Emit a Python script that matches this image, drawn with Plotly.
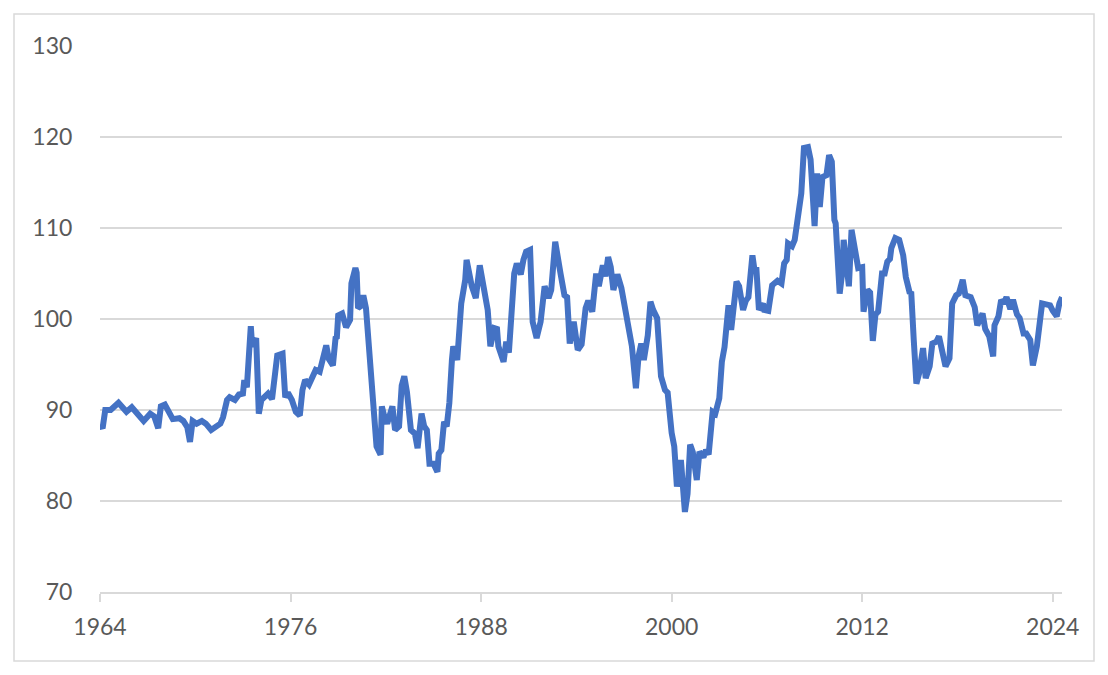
import plotly.graph_objects as go

# monthly points (index, roughly 70-130)
dates = [
    "1964-01", "1964-03", "1964-05", "1964-09", "1965-03", "1965-05", "1965-09", "1966-01",
    "1966-04", "1966-10", "1967-03", "1967-06", "1967-09", "1967-11", "1968-02", "1968-05",
    "1968-08", "1969-01", "1969-04", "1969-07", "1969-09", "1969-11", "1970-02", "1970-06",
    "1970-09", "1971-01", "1971-04", "1971-08", "1971-10", "1972-01", "1972-03", "1972-07",
    "1972-10", "1973-01", "1973-02", "1973-04", "1973-07", "1973-08", "1973-11", "1974-01",
    "1974-03", "1974-06", "1974-08", "1974-11", "1975-01", "1975-03", "1975-07", "1975-09",
    "1975-11", "1976-02", "1976-05", "1976-08", "1976-10", "1976-12", "1977-03", "1977-05",
    "1977-08", "1977-11", "1978-01", "1978-04", "1978-06", "1978-09", "1978-11", "1978-12",
    "1979-01", "1979-04", "1979-07", "1979-10", "1979-11", "1980-02", "1980-03", "1980-04",
    "1980-06", "1980-08", "1980-10", "1981-01", "1981-03", "1981-04", "1981-06", "1981-09",
    "1981-10", "1981-12", "1982-02", "1982-06", "1982-08", "1982-11", "1983-01", "1983-03",
    "1983-05", "1983-08", "1983-11", "1984-01", "1984-04", "1984-06", "1984-08", "1984-10",
    "1985-01", "1985-04", "1985-05", "1985-07", "1985-09", "1985-11", "1986-01", "1986-03",
    "1986-04", "1986-07", "1986-08", "1986-10", "1987-01", "1987-02", "1987-06", "1987-09",
    "1987-12", "1988-03", "1988-06", "1988-08", "1988-11", "1989-01", "1989-02", "1989-06",
    "1989-08", "1989-10", "1990-01", "1990-02", "1990-04", "1990-07", "1990-09", "1990-11",
    "1991-02", "1991-04", "1991-07", "1991-10", "1992-01", "1992-04", "1992-06", "1992-09",
    "1993-01", "1993-04", "1993-06", "1993-08", "1993-11", "1994-02", "1994-05", "1994-08",
    "1994-10", "1995-01", "1995-04", "1995-06", "1995-09", "1995-11", "1996-01", "1996-03",
    "1996-05", "1996-08", "1996-11", "1997-01", "1997-04", "1997-07", "1997-10", "1997-12",
    "1998-02", "1998-04", "1998-07", "1998-09", "1998-11", "1999-02", "1999-05", "1999-08",
    "1999-10", "1999-11", "2000-01", "2000-03", "2000-05", "2000-08", "2000-10", "2000-11",
    "2001-01", "2001-03", "2001-05", "2001-08", "2001-10", "2002-01", "2002-03", "2002-05",
    "2002-08", "2002-10", "2003-01", "2003-03", "2003-05", "2003-07", "2003-08", "2003-10",
    "2003-12", "2004-02", "2004-04", "2004-07", "2004-09", "2004-11", "2005-02", "2005-04",
    "2005-05", "2005-07", "2005-10", "2005-11", "2006-02", "2006-05", "2006-09", "2006-12",
    "2007-02", "2007-04", "2007-05", "2007-08", "2007-10", "2008-01", "2008-03", "2008-05",
    "2008-08", "2008-10", "2008-12", "2009-01", "2009-03", "2009-05", "2009-07", "2009-10",
    "2009-12", "2010-02", "2010-04", "2010-05", "2010-08", "2010-10", "2010-11", "2011-01",
    "2011-03", "2011-05", "2011-08", "2011-10", "2012-01", "2012-02", "2012-05", "2012-07",
    "2012-09", "2012-11", "2013-01", "2013-04", "2013-06", "2013-08", "2013-10", "2013-11",
    "2014-02", "2014-05", "2014-08", "2014-10", "2015-01", "2015-02", "2015-04", "2015-06",
    "2015-08", "2015-11", "2016-01", "2016-04", "2016-06", "2016-09", "2016-11", "2017-02",
    "2017-04", "2017-07", "2017-09", "2017-12", "2018-02", "2018-05", "2018-07", "2018-11",
    "2019-02", "2019-04", "2019-08", "2019-10", "2020-01", "2020-04", "2020-05", "2020-08",
    "2020-10", "2020-12", "2021-02", "2021-05", "2021-07", "2021-10", "2021-12", "2022-03",
    "2022-05", "2022-08", "2022-10", "2023-01", "2023-03", "2023-05", "2023-08", "2023-11",
    "2024-01", "2024-04", "2024-06", "2024-08",
]
values = [
    88.4, 88.0, 90.0, 90.0, 90.8, 90.5, 89.8, 90.3,
    89.8, 88.8, 89.6, 89.3, 88.0, 90.4, 90.6, 89.8,
    89.0, 89.1, 88.8, 88.1, 86.5, 88.8, 88.5, 88.8,
    88.5, 87.8, 88.1, 88.5, 89.2, 91.1, 91.4, 91.1,
    91.7, 91.8, 93.3, 92.5, 99.2, 97.0, 97.9, 89.6,
    91.1, 91.6, 91.8, 91.2, 93.7, 96.0, 96.2, 91.4,
    91.9, 91.1, 89.8, 89.4, 92.2, 93.3, 92.8, 93.5,
    94.4, 94.2, 95.7, 97.1, 95.6, 94.9, 97.9, 98.0,
    100.4, 100.6, 99.1, 99.9, 103.9, 105.6, 105.1, 101.2,
    101.4, 102.6, 101.2, 95.9, 90.8, 90.9, 86.0, 85.1,
    90.4, 89.2, 88.5, 90.4, 87.8, 88.2, 92.7, 93.7,
    92.0, 87.8, 87.4, 85.8, 89.6, 88.2, 87.8, 84.1,
    84.1, 83.2, 85.2, 85.6, 88.7, 88.2, 90.8, 95.5,
    97.0, 95.5, 98.8, 101.7, 104.3, 106.5, 103.6, 102.3,
    105.9, 103.2, 101.0, 97.0, 99.0, 98.9, 97.0, 95.3,
    97.5, 96.3, 101.5, 105.0, 106.1, 104.9, 106.5, 107.4,
    107.6, 99.7, 97.9, 99.7, 103.6, 102.3, 103.2, 108.5,
    105.0, 102.6, 102.4, 97.3, 99.7, 96.6, 97.2, 101.2,
    102.0, 100.8, 105.0, 103.6, 105.9, 104.7, 106.8, 105.7,
    103.2, 104.9, 103.4, 101.6, 98.8, 97.0, 92.4, 95.9,
    97.3, 95.5, 98.2, 101.9, 101.0, 100.1, 93.7, 92.2,
    91.9, 90.0, 87.5, 86.0, 81.6, 84.5, 81.5, 78.8,
    80.8, 86.2, 85.4, 82.3, 85.4, 84.8, 85.6, 85.1,
    89.8, 89.6, 91.3, 95.3, 96.9, 101.0, 101.5, 98.8,
    101.0, 104.1, 103.6, 101.0, 102.0, 102.4, 107.0, 105.0,
    105.7, 101.0, 101.7, 101.0, 100.9, 103.7, 104.2, 103.9,
    106.1, 106.5, 108.3, 108.0, 108.7, 112.7, 113.8, 118.8,
    118.9, 117.5, 110.9, 110.2, 116.0, 112.3, 115.6, 115.8,
    118.0, 117.3, 110.9, 110.5, 102.8, 105.2, 108.7, 106.1,
    103.6, 109.8, 107.6, 105.6, 105.7, 100.8, 103.2, 102.9,
    97.6, 100.5, 100.8, 105.0, 105.0, 106.3, 106.6, 107.8,
    108.9, 108.7, 107.0, 104.6, 102.8, 103.0, 97.7, 92.9,
    94.0, 96.8, 93.5, 94.8, 97.3, 97.5, 98.1, 96.2,
    94.8, 95.7, 101.7, 102.6, 102.8, 104.3, 102.6, 102.4,
    101.3, 99.3, 100.6, 98.9, 98.1, 95.9, 99.3, 100.3,
    102.1, 101.7, 102.4, 101.1, 102.1, 100.5, 100.1, 98.4,
    98.4, 97.7, 94.9, 97.0, 99.3, 101.7, 101.6, 101.5,
    100.9, 100.3, 101.7, 102.4,
]

tick_years = ["1964", "1976", "1988", "2000", "2012", "2024"]
y_ticks = [70, 80, 90, 100, 110, 120, 130]

W, H = 1108, 675
# the page puts the figure 8px in from the corner
L, R, T, B = 92, 54, 38, 91
grey_text = "#595959"
grid = "#d9d9d9"

fig = go.Figure()
fig.add_trace(go.Scatter(
    x=dates, y=values, mode="lines",
    line=dict(color="#4472C4", width=6),
    showlegend=False, hoverinfo="x+y",
))

fig.update_xaxes(
    type="date",
    range=[dates[0], dates[-1]],
    tickvals=[y + "-01" for y in tick_years],
    ticktext=tick_years,
    showgrid=False, zeroline=False,
    showline=True, linecolor=grid, linewidth=1.5,
    ticks="outside", ticklen=8, tickcolor=grid, tickwidth=1.5,
    ticklabelstandoff=6,
    tickfont=dict(family="Lato", size=23, color=grey_text),
)
fig.update_yaxes(
    range=[70, 130],
    tickvals=y_ticks,
    showgrid=True, gridcolor=grid, gridwidth=1.5,
    zeroline=False, showline=False,
    ticks="outside", ticklen=0,
    ticklabelstandoff=22,
    tickfont=dict(family="Lato", size=23, color=grey_text),
)

# outer chart border
pw, ph = W - L - R, H - T - B
fig.add_shape(
    type="rect", xref="paper", yref="paper", layer="below",
    x0=(6 - L) / pw, x1=(1086 - L) / pw,
    y0=(H - B - 653) / ph, y1=(H - B - 6) / ph,
    line=dict(color=grid, width=1.5),
)

fig.update_layout(
    width=W, height=H,
    margin=dict(l=L, r=R, t=T, b=B),
    paper_bgcolor="white", plot_bgcolor="white",
)

fig.write_html("out.html")
